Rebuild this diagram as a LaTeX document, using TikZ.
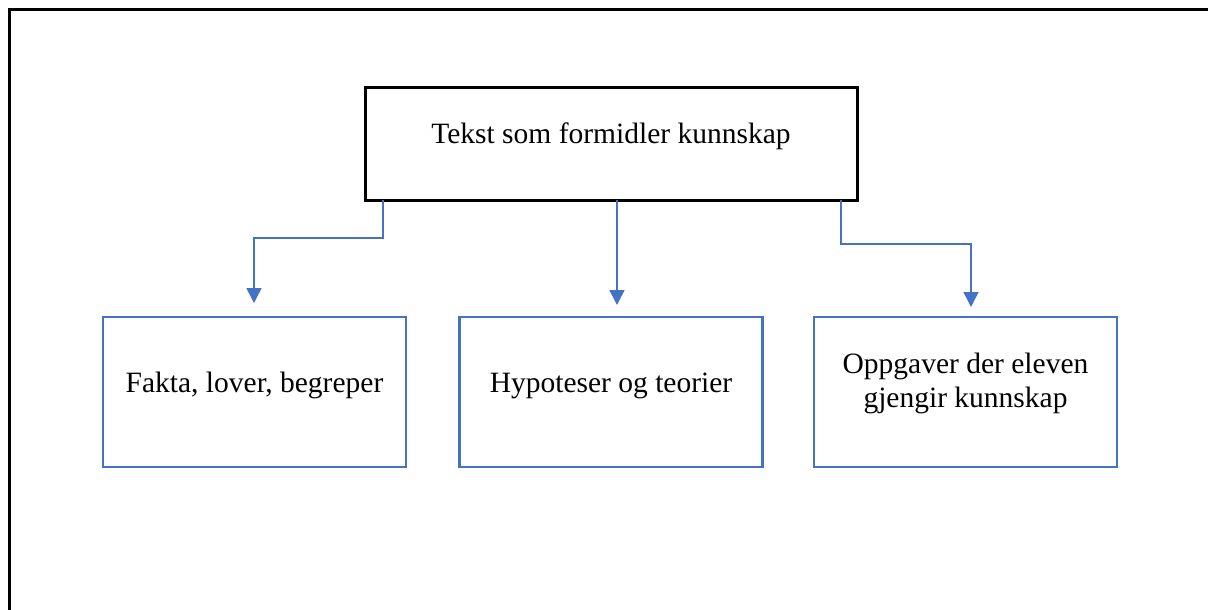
\documentclass[tikz,border=0pt]{standalone}
\usepackage{fontspec}
\setmainfont{Liberation Serif}
\usetikzlibrary{arrows.meta}
\definecolor{wblue}{HTML}{4472C4}
\tikzset{
  topbox/.style={draw=black, line width=3pt, minimum width=492pt, minimum height=112pt, inner sep=0pt},
  subbox/.style={draw=wblue, line width=2.8pt, minimum width=303pt, minimum height=150pt, inner sep=0pt},
  lbl/.style={font=\fontsize{29.5}{34}\selectfont, align=center, anchor=base, inner sep=0pt},
  conn/.style={draw=wblue, line width=1.5pt, -{Triangle[width=15pt,length=15pt]}},
}
\begin{document}
\begin{tikzpicture}[x=1pt,y=-1pt]
\useasboundingbox (0,0) rectangle (1208,610);
% outer frame (only left and top edges visible)
\draw[line width=3pt] (9,612) -- (9,10) -- (1210,10);
\node[topbox] (top) at (611,144) {};
\node[lbl] (toptext) at (611,143) {Tekst som formidler kunnskap};
\node[subbox] (b1) at (254.5,392) {};
\node[subbox] (b2) at (611,392) {};
\node[subbox] (b3) at (965.5,392) {};
\node[lbl] (t1) at (254.5,392) {Fakta, lover, begreper};
\node[lbl] (t2) at (611,392) {Hypoteser og teorier};
\node[lbl] (t3) at (965.5,407) {Oppgaver der eleven\\gjengir kunnskap};
\coordinate (s1) at (383,200);
\coordinate (s2) at (617,200);
\coordinate (s3) at (841,200);
\coordinate (e1) at (254,303);
\coordinate (e2) at (617,305);
\coordinate (e3) at (971,307);
\draw[conn] (s1) -- (383,238) -| (e1);
\draw[conn] (s2) -- (e2);
\draw[conn] (s3) -- (841,244) -| (e3);
\end{tikzpicture}
\end{document}
